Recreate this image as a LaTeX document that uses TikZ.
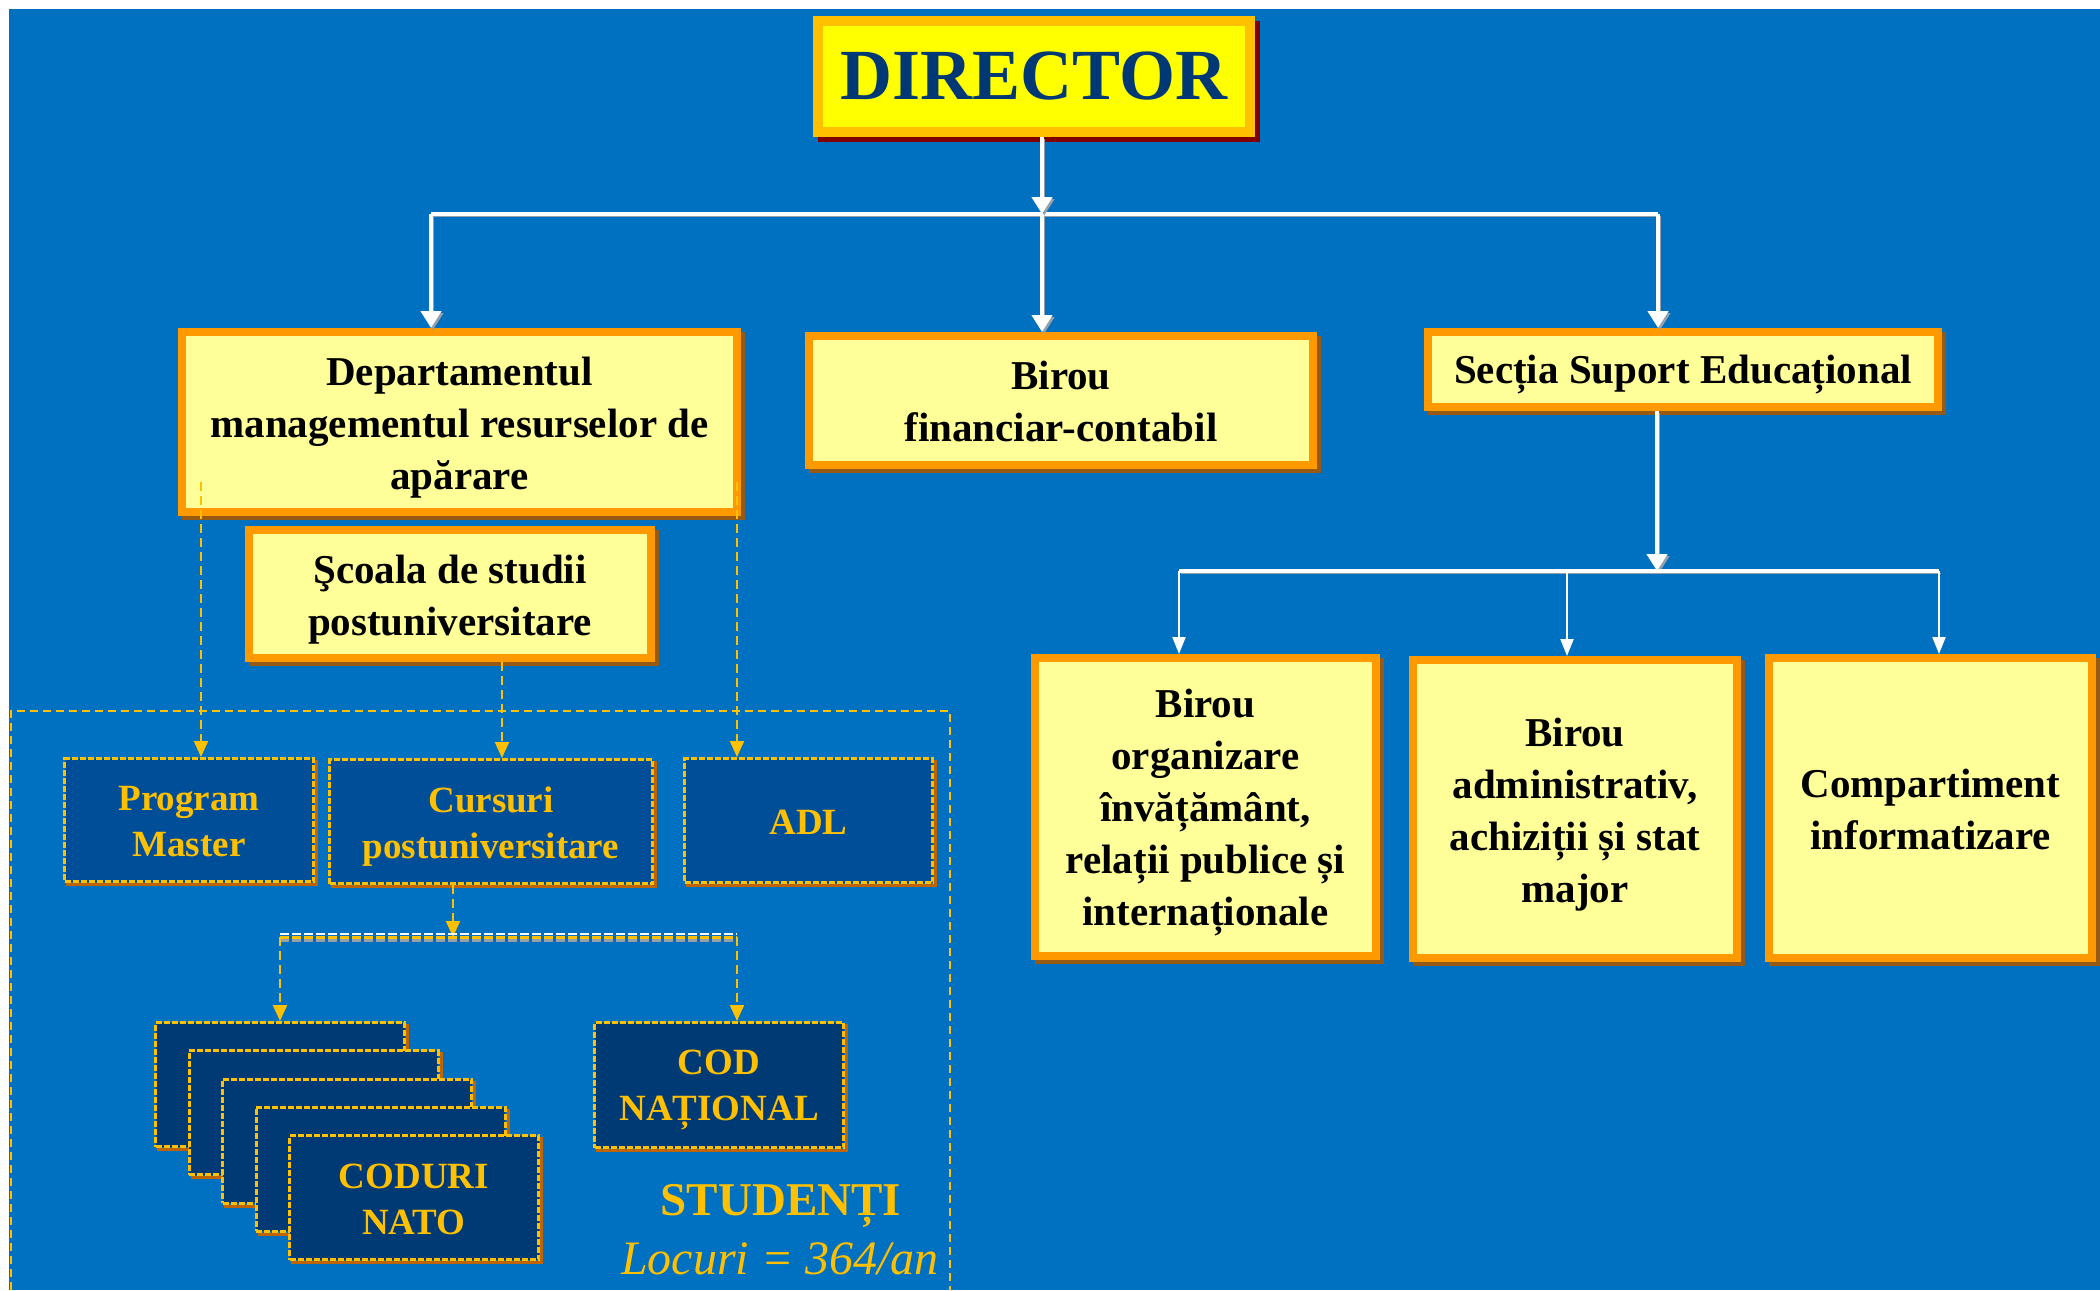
\documentclass[tikz,border=0pt]{standalone}
\usepackage{fontspec}
\setmainfont{Liberation Serif}
\usetikzlibrary{arrows.meta,calc}
\definecolor{bg}{RGB}{0,112,192}
\definecolor{yfill}{RGB}{255,255,153}
\definecolor{yborder}{RGB}{255,153,0}
\definecolor{yshadow}{RGB}{150,90,20}
\definecolor{dfillA}{RGB}{0,78,152}
\definecolor{dfillB}{RGB}{0,58,117}
\definecolor{gold}{RGB}{255,192,0}
\definecolor{navy}{RGB}{0,56,118}
\definecolor{dirfill}{RGB}{255,255,0}
\definecolor{dirborder}{RGB}{255,192,0}
\definecolor{dirshadow}{RGB}{128,0,0}
\definecolor{dshadow}{RGB}{190,100,0}
\definecolor{lineshadow}{RGB}{150,160,170}
\newcommand\lnstrut{\rule[-0.2em]{0pt}{1.15em}}
\begin{document}
\begin{tikzpicture}[x=1pt,y=-1pt,
  dirbox/.style={draw=dirborder, line width=10pt, fill=dirfill, inner sep=0pt, align=center,
    text=navy, font=\fontsize{72}{80}\selectfont\bfseries,
    preaction={draw=dirshadow, fill=dirshadow, transform canvas={shift={(5pt,-5pt)}}}},
  ybox/.style={draw=yborder, line width=8pt, fill=yfill, inner sep=0pt, align=center,
    text=black, font=\fontsize{41}{52}\selectfont\bfseries,
    preaction={draw=yshadow, fill=yshadow, transform canvas={shift={(4pt,-4pt)}}}},
  dbox/.style={draw=gold, line width=3pt, dash pattern=on 6pt off 2pt, fill=dfillA, inner sep=0pt, align=center,
    text=gold, font=\fontsize{37}{46}\selectfont\bfseries,
    preaction={draw=dshadow, solid, line width=3pt, transform canvas={shift={(3pt,-3pt)}}}},
  dboxB/.style={dbox, fill=dfillB},
  wline/.style={draw=white, line width=4.5pt,
    preaction={draw=lineshadow, transform canvas={shift={(2pt,-2pt)}}}},
  warrow/.style={wline, -{Triangle[length=17pt,width=20pt]}},
  tarrow/.style={draw=white, line width=2.2pt, -{Triangle[length=17pt,width=13pt]}},
  dline/.style={draw=gold, line width=2pt, dash pattern=on 9pt off 5pt},
  darrow/.style={dline, -{Triangle[length=16pt,width=14pt]}},
]
\useasboundingbox (0,0) rectangle (2100,1290);
\fill[white] (0,0) rectangle (2100,1290);
\fill[bg] (9,9) rectangle (2100,1290);

% outer dashed frame
\draw[gold, line width=1.8pt, dash pattern=on 8pt off 5pt] (11,1290) -- (11,711) -- (950,711) -- (950,1290);

% top level
\node[dirbox, minimum width=432pt, minimum height=111pt] (dir) at (1034,76.5) {DIRECTOR};
\node[ybox, minimum width=555pt, minimum height=180pt] (dept) at (459.5,422) {\lnstrut Departamentul\\\lnstrut managementul resurselor de\\\lnstrut apărare};
\node[ybox, minimum width=504pt, minimum height=129pt] (fin) at (1061,400.5) {\lnstrut Birou\\\lnstrut financiar-contabil};
\node[ybox, minimum width=510pt, minimum height=75pt] (sec) at (1683,369.5) {\lnstrut Secția Suport Educațional};
\node[ybox, minimum width=402pt, minimum height=128pt] (scoala) at (450,594) {\lnstrut Şcoala de studii\\\lnstrut postuniversitare};

\node[ybox, minimum width=341pt, minimum height=298pt] (b1) at (1205.5,807) {\lnstrut Birou\\\lnstrut organizare\\\lnstrut învățământ,\\\lnstrut relații publice și\\\lnstrut internaționale};
\node[ybox, minimum width=324pt, minimum height=298pt] (b2) at (1575,809) {\lnstrut Birou\\\lnstrut administrativ,\\\lnstrut achiziții și stat\\\lnstrut major};
\node[ybox, minimum width=323pt, minimum height=300pt] (b3) at (1930.5,808) {\lnstrut Compartiment\\\lnstrut informatizare};

% dark boxes
\node[dbox, minimum width=249pt, minimum height=123pt] (pm) at (189,820) {\lnstrut Program\\\lnstrut Master};
\node[dbox, minimum width=323pt, minimum height=124pt] (cp) at (491,821.5) {\lnstrut Cursuri\\\lnstrut postuniversitare};
\node[dbox, minimum width=248pt, minimum height=124pt] (adl) at (808.5,820.5) {\lnstrut ADL};

\foreach \k in {0,...,3}{
  \node[dboxB, minimum width=249pt, minimum height=124pt] (n\k) at ({280+33.5*\k},{1084.5+28.25*\k}) {};
}
\node[dboxB, minimum width=249pt, minimum height=124pt] (n4) at (414,1197.5) {\lnstrut CODURI\\\lnstrut NATO};
\node[dboxB, minimum width=249pt, minimum height=125pt] (cod) at (719,1085) {\lnstrut COD\\\lnstrut NAȚIONAL};

\node[text=gold, font=\fontsize{47}{56}\selectfont\bfseries] (stud) at (781,1206) {STUDENȚI};
\node[text=gold, font=\fontsize{48}{54}\selectfont\itshape] (loc) at (780,1259) {Locuri = 364/an};

% white connectors (top)
\coordinate (j0) at (1042,214);
\coordinate (jl) at (431,214);
\coordinate (jr) at (1658,214);
\draw[wline] (jl) -- (jr);
\draw[warrow] (dir.south -| j0) -- (j0);
\draw[warrow] (jl) -- (jl |- dept.north);
\draw[warrow] (j0) -- (j0 |- fin.north);
\draw[warrow] (jr) -- (jr |- sec.north);

% white connectors (right)
\coordinate (k0) at (1657,571);
\coordinate (kl) at (1179,571);
\coordinate (km) at (1567,571);
\coordinate (kr) at (1939,571);
\draw[warrow] (sec.south -| k0) -- (k0);
\draw[wline] (kl) -- (kr);
\draw[tarrow] (kl) -- (kl |- b1.north);
\draw[tarrow] (km) -- (km |- b2.north);
\draw[tarrow] (kr) -- (kr |- b3.north);

% dashed connectors (left)
\coordinate (d1) at (201,482);
\coordinate (d2) at (737,482);
\coordinate (sx) at (502,662);
\draw[darrow] (d1) -- (d1 |- pm.north);
\draw[darrow] (d2) -- (d2 |- adl.north);
\draw[darrow] (scoala.south -| sx) -- (sx |- cp.north);

\coordinate (m0) at (453,937);
\coordinate (ml) at (280,937);
\coordinate (mr) at (737,937);
\draw[darrow] (cp.south -| m0) -- (m0);
\draw[lineshadow, line width=3pt, dash pattern=on 9pt off 3pt] ([yshift=-3pt]ml) -- ([yshift=-3pt]mr);
\draw[gold, line width=3pt, dash pattern=on 9pt off 3pt] (ml) -- (mr);
\draw[white, line width=1.5pt, dash pattern=on 9pt off 3pt] ([yshift=3pt]ml) -- ([yshift=3pt]mr);
\draw[darrow] (ml) -- (ml |- n0.north);
\draw[darrow] (mr) -- (mr |- cod.north);
\end{tikzpicture}
\end{document}
